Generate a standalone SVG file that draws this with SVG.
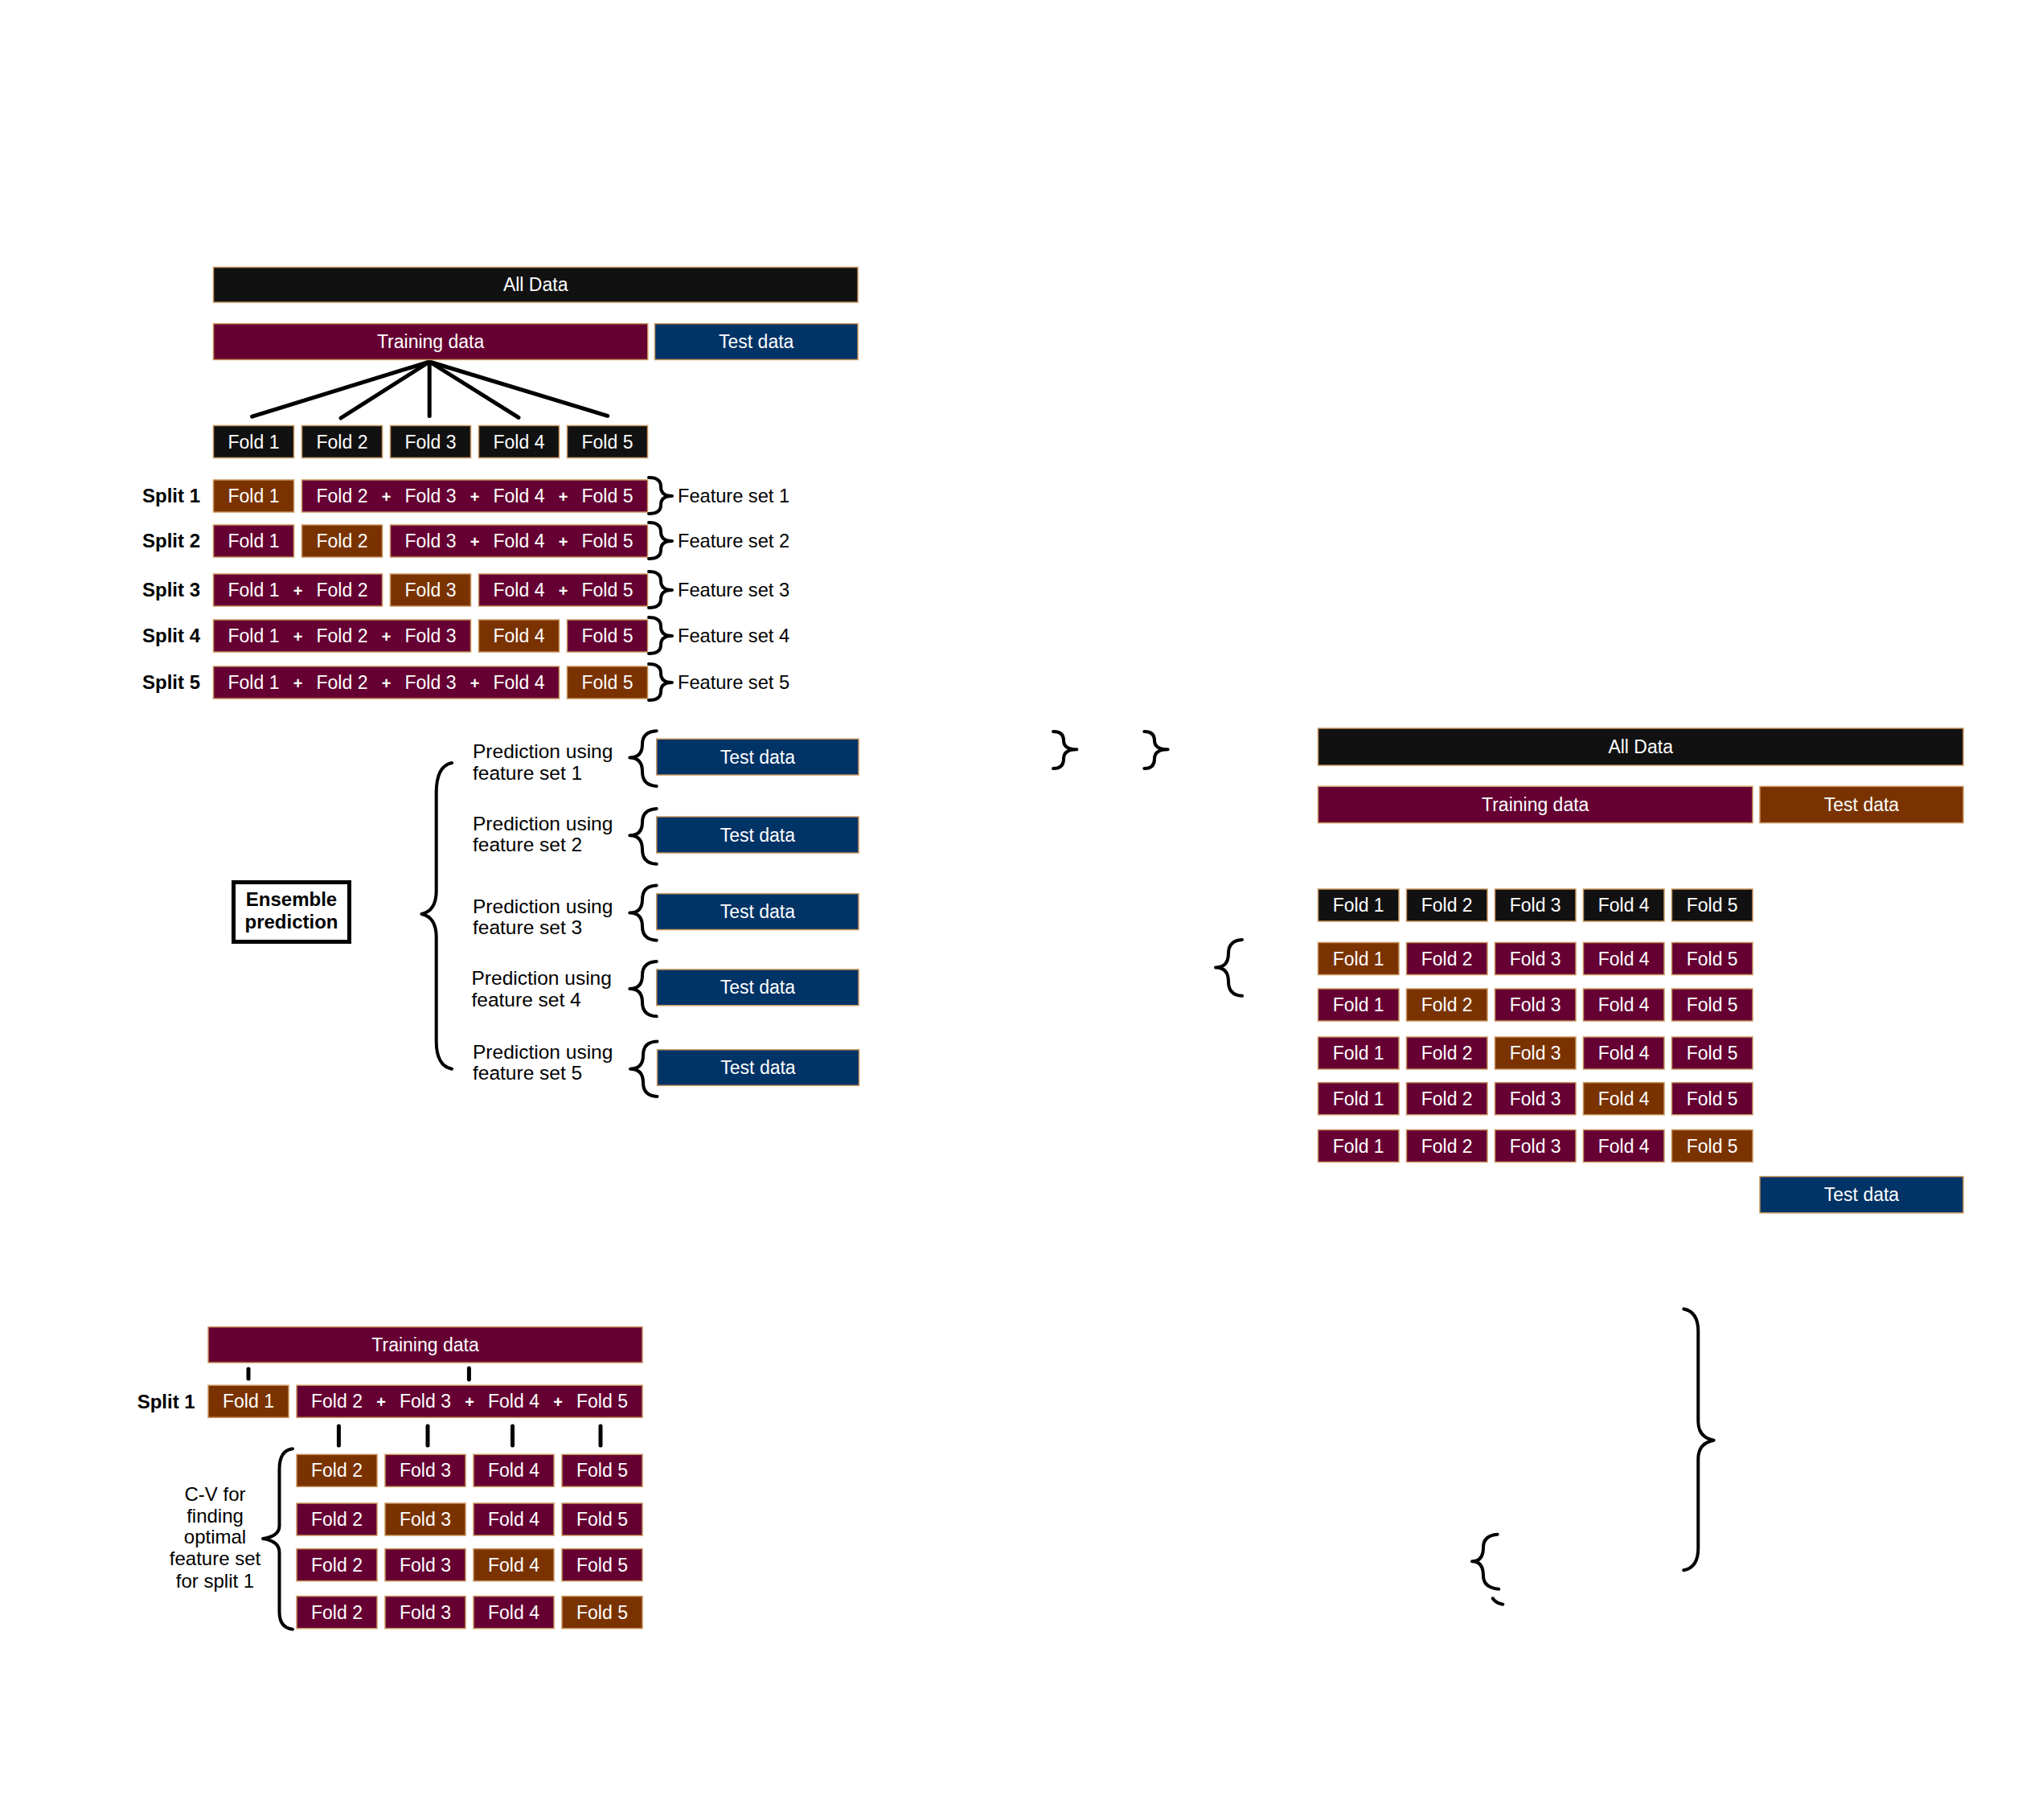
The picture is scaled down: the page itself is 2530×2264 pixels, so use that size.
<svg xmlns="http://www.w3.org/2000/svg" width="2530" height="2264" viewBox="0 0 2530 2264">
<style>
.b{stroke:#c8955e;stroke-width:1.5}
.k{fill:#111111}.m{fill:#660033}.o{fill:#7a3300}.n{fill:#003366}
text{font-family:"Liberation Sans",Arial,Helvetica,sans-serif;font-size:23px}
.w{fill:#ffffff;text-anchor:middle}
.p{fill:#ffffff;text-anchor:middle;font-weight:bold;font-size:20px}
.d{fill:#000000}
.f{fill:#000000;font-size:23.6px}
.q{fill:#000000;font-size:24.5px}
.c{fill:#000000;font-size:24px;text-anchor:middle}
.s{fill:#000000;font-weight:bold;font-size:24px}
.br{fill:none;stroke:#000000;stroke-width:4;stroke-linecap:round;stroke-linejoin:round}
.ln{stroke:#000000;stroke-width:5;stroke-linecap:round}
</style>
<rect width="2530" height="2264" fill="#ffffff"/>

<g id="connectors">
<line class="ln" x1="534.2" y1="450" x2="313.6" y2="518.2"/>
<line class="ln" x1="534.2" y1="450" x2="424" y2="520"/>
<line class="ln" x1="534.2" y1="450" x2="534.2" y2="517.5"/>
<line class="ln" x1="534.2" y1="450" x2="645" y2="519.3"/>
<line class="ln" x1="534.2" y1="450" x2="755.7" y2="517.3"/>
<line class="ln" x1="309" y1="1703" x2="309" y2="1715"/>
<line class="ln" x1="583.4" y1="1702" x2="583.4" y2="1716"/>
<line class="ln" x1="421.4" y1="1774" x2="421.4" y2="1798"/>
<line class="ln" x1="532" y1="1774" x2="532" y2="1798"/>
<line class="ln" x1="637.5" y1="1774" x2="637.5" y2="1798"/>
<line class="ln" x1="747" y1="1774" x2="747" y2="1798"/>
</g>

<g id="top-all-data">
<rect class="b k" x="265.5" y="332.5" width="801.5" height="43.5"/>
<text class="w" x="666.2" y="362">All Data</text>
</g>
<g id="top-training">
<rect class="b m" x="265.5" y="402.7" width="540.2" height="44.7"/>
<text class="w" x="535.6" y="433">Training data</text>
</g>
<g id="top-test">
<rect class="b n" x="814.5" y="402.7" width="252.5" height="44.7"/>
<text class="w" x="940.7" y="433">Test data</text>
</g>
<g id="top-folds">
<rect class="b k" x="265.5" y="529.5" width="100" height="40"/>
<rect class="b k" x="375.5" y="529.5" width="100" height="40"/>
<rect class="b k" x="485.5" y="529.5" width="100" height="40"/>
<rect class="b k" x="595.5" y="529.5" width="100" height="40"/>
<rect class="b k" x="705.5" y="529.5" width="100" height="40"/>
<text class="w" x="315.5" y="557.5">Fold 1</text>
<text class="w" x="425.5" y="557.5">Fold 2</text>
<text class="w" x="535.5" y="557.5">Fold 3</text>
<text class="w" x="645.5" y="557.5">Fold 4</text>
<text class="w" x="755.5" y="557.5">Fold 5</text>
</g>

<g id="split1">
<text class="s" x="177" y="625">Split 1</text>
<rect class="b o" x="265.5" y="597" width="100" height="40"/>
<rect class="b m" x="375.5" y="597" width="430" height="40"/>
<text class="w" x="315.5" y="625">Fold 1</text>
<text class="w" x="425.5" y="625">Fold 2</text>
<text class="p" x="480.5" y="625">+</text>
<text class="w" x="535.5" y="625">Fold 3</text>
<text class="p" x="590.5" y="625">+</text>
<text class="w" x="645.5" y="625">Fold 4</text>
<text class="p" x="700.5" y="625">+</text>
<text class="w" x="755.5" y="625">Fold 5</text>
<path class="br" d="M807 594 Q822 594 822 605.5 Q822 617 836 617 Q822 617 822 628 Q822 639 807 639"/>
<text class="f" x="843" y="625">Feature set 1</text>
</g>
<g id="split2">
<text class="s" x="177" y="681">Split 2</text>
<rect class="b m" x="265.5" y="653" width="100" height="40"/>
<rect class="b o" x="375.5" y="653" width="100" height="40"/>
<rect class="b m" x="485.5" y="653" width="320" height="40"/>
<text class="w" x="315.5" y="681">Fold 1</text>
<text class="w" x="425.5" y="681">Fold 2</text>
<text class="w" x="535.5" y="681">Fold 3</text>
<text class="p" x="590.5" y="681">+</text>
<text class="w" x="645.5" y="681">Fold 4</text>
<text class="p" x="700.5" y="681">+</text>
<text class="w" x="755.5" y="681">Fold 5</text>
<path class="br" d="M807 650 Q822 650 822 661.5 Q822 673 836 673 Q822 673 822 684 Q822 695 807 695"/>
<text class="f" x="843" y="681">Feature set 2</text>
</g>
<g id="split3">
<text class="s" x="177" y="742">Split 3</text>
<rect class="b m" x="265.5" y="714" width="210" height="40"/>
<rect class="b o" x="485.5" y="714" width="100" height="40"/>
<rect class="b m" x="595.5" y="714" width="210" height="40"/>
<text class="w" x="315.5" y="742">Fold 1</text>
<text class="p" x="370.5" y="742">+</text>
<text class="w" x="425.5" y="742">Fold 2</text>
<text class="w" x="535.5" y="742">Fold 3</text>
<text class="w" x="645.5" y="742">Fold 4</text>
<text class="p" x="700.5" y="742">+</text>
<text class="w" x="755.5" y="742">Fold 5</text>
<path class="br" d="M807 711 Q822 711 822 722.5 Q822 734 836 734 Q822 734 822 745 Q822 756 807 756"/>
<text class="f" x="843" y="742">Feature set 3</text>
</g>
<g id="split4">
<text class="s" x="177" y="799">Split 4</text>
<rect class="b m" x="265.5" y="771" width="320" height="40"/>
<rect class="b o" x="595.5" y="771" width="100" height="40"/>
<rect class="b m" x="705.5" y="771" width="100" height="40"/>
<text class="w" x="315.5" y="799">Fold 1</text>
<text class="p" x="370.5" y="799">+</text>
<text class="w" x="425.5" y="799">Fold 2</text>
<text class="p" x="480.5" y="799">+</text>
<text class="w" x="535.5" y="799">Fold 3</text>
<text class="w" x="645.5" y="799">Fold 4</text>
<text class="w" x="755.5" y="799">Fold 5</text>
<path class="br" d="M807 768 Q822 768 822 779.5 Q822 791 836 791 Q822 791 822 802 Q822 813 807 813"/>
<text class="f" x="843" y="799">Feature set 4</text>
</g>
<g id="split5">
<text class="s" x="177" y="857">Split 5</text>
<rect class="b m" x="265.5" y="829" width="430" height="40"/>
<rect class="b o" x="705.5" y="829" width="100" height="40"/>
<text class="w" x="315.5" y="857">Fold 1</text>
<text class="p" x="370.5" y="857">+</text>
<text class="w" x="425.5" y="857">Fold 2</text>
<text class="p" x="480.5" y="857">+</text>
<text class="w" x="535.5" y="857">Fold 3</text>
<text class="p" x="590.5" y="857">+</text>
<text class="w" x="645.5" y="857">Fold 4</text>
<text class="w" x="755.5" y="857">Fold 5</text>
<path class="br" d="M807 826 Q822 826 822 837.5 Q822 849 836 849 Q822 849 822 860 Q822 871 807 871"/>
<text class="f" x="843" y="857">Feature set 5</text>
</g>

<g id="ensemble">
<rect x="290.5" y="1097.5" width="144" height="74" fill="#ffffff" stroke="#000000" stroke-width="5"/>
<text class="s" x="362.5" y="1126.5" text-anchor="middle" font-size="24.5">Ensemble</text>
<text class="s" x="362.5" y="1155" text-anchor="middle" font-size="24.5">prediction</text>
<path class="br" d="M562 949 Q542.7 953 542.7 986 L542.7 1108 Q542.7 1133 524.5 1137 Q542.7 1141 542.7 1166 L542.7 1295 Q542.7 1326 562 1329.7" stroke-width="4.5"/>
</g>

<g id="pred1">
<text class="q" x="588" y="943">Prediction using</text>
<text class="q" x="588" y="969.6">feature set 1</text>
<path class="br" d="M816.7 909.2 Q799 910 799 925.8 Q799 942.4 783.3 942.4 Q799 942.4 799 960 Q799 977 816.7 977.9"/>
<rect class="b n" x="816.7" y="919.2" width="251.3" height="44.8"/>
<text class="w" x="942.3" y="949.6">Test data</text>
</g>
<g id="pred2">
<text class="q" x="588" y="1032.7">Prediction using</text>
<text class="q" x="588" y="1059">feature set 2</text>
<path class="br" d="M816.7 1006 Q799 1007 799 1022.6 Q799 1039.3 783.3 1039.3 Q799 1039.3 799 1057 Q799 1074 816.7 1074.8"/>
<rect class="b n" x="816.7" y="1016" width="251.3" height="45"/>
<text class="w" x="942.3" y="1046.5">Test data</text>
</g>
<g id="pred3">
<text class="q" x="588" y="1135.6">Prediction using</text>
<text class="q" x="588" y="1162">feature set 3</text>
<path class="br" d="M816.7 1101.4 Q799 1102 799 1118.5 Q799 1135.6 783.3 1135.6 Q799 1135.6 799 1152.6 Q799 1169 816.7 1169.7"/>
<rect class="b n" x="816.7" y="1111.7" width="251.3" height="44.8"/>
<text class="w" x="942.3" y="1142">Test data</text>
</g>
<g id="pred4">
<text class="q" x="586.5" y="1225">Prediction using</text>
<text class="q" x="586.5" y="1251.7">feature set 4</text>
<path class="br" d="M816.7 1196 Q799 1197 799 1213 Q799 1230 783.3 1230 Q799 1230 799 1247 Q799 1263.5 816.7 1264.3"/>
<rect class="b n" x="816.7" y="1206" width="251.3" height="44.7"/>
<text class="w" x="942.3" y="1236.4">Test data</text>
</g>
<g id="pred5">
<text class="q" x="588" y="1317.4">Prediction using</text>
<text class="q" x="588" y="1343">feature set 5</text>
<path class="br" d="M817.5 1295.5 Q800 1296 800 1312.6 Q800 1329.7 784 1329.7 Q800 1329.7 800 1347 Q800 1363 817.5 1364"/>
<rect class="b n" x="817.5" y="1305.8" width="251" height="44.5"/>
<text class="w" x="943" y="1336">Test data</text>
</g>

<g id="right-braces">
<path class="br" d="M1310 910 Q1323 910 1323 921 Q1323 932.3 1339.3 932.3 Q1323 932.3 1323 944 Q1323 956 1310 956"/>
<path class="br" d="M1423.3 910 Q1436 910 1436 921 Q1436 932.3 1452.7 932.3 Q1436 932.3 1436 944 Q1436 956 1423.3 956"/>
<path class="br" d="M1545 1169 Q1528 1170 1528 1186 Q1528 1203.5 1512 1203.5 Q1528 1203.5 1528 1221 Q1528 1238 1545 1238.8"/>
</g>
<g id="right-all-data">
<rect class="b k" x="1639.5" y="906" width="802.5" height="46"/>
<text class="w" x="2040.7" y="937">All Data</text>
</g>
<g id="right-training">
<rect class="b m" x="1639.5" y="978.3" width="540.5" height="45.3"/>
<text class="w" x="1909.7" y="1009">Training data</text>
</g>
<g id="right-test-orange">
<rect class="b o" x="2189" y="978.3" width="253" height="45.3"/>
<text class="w" x="2315.5" y="1009">Test data</text>
</g>
<g id="right-folds">
<rect class="b k" x="1639.5" y="1106" width="100.5" height="40"/>
<rect class="b k" x="1749.5" y="1106" width="100.5" height="40"/>
<rect class="b k" x="1859.5" y="1106" width="100.5" height="40"/>
<rect class="b k" x="1969.5" y="1106" width="100.5" height="40"/>
<rect class="b k" x="2079.5" y="1106" width="100.5" height="40"/>
<text class="w" x="1689.7" y="1134">Fold 1</text>
<text class="w" x="1799.7" y="1134">Fold 2</text>
<text class="w" x="1909.7" y="1134">Fold 3</text>
<text class="w" x="2019.7" y="1134">Fold 4</text>
<text class="w" x="2129.7" y="1134">Fold 5</text>
</g>
<g id="right-row1">
<rect class="b o" x="1639.5" y="1172.5" width="100.5" height="40"/>
<rect class="b m" x="1749.5" y="1172.5" width="100.5" height="40"/>
<rect class="b m" x="1859.5" y="1172.5" width="100.5" height="40"/>
<rect class="b m" x="1969.5" y="1172.5" width="100.5" height="40"/>
<rect class="b m" x="2079.5" y="1172.5" width="100.5" height="40"/>
<text class="w" x="1689.7" y="1200.5">Fold 1</text>
<text class="w" x="1799.7" y="1200.5">Fold 2</text>
<text class="w" x="1909.7" y="1200.5">Fold 3</text>
<text class="w" x="2019.7" y="1200.5">Fold 4</text>
<text class="w" x="2129.7" y="1200.5">Fold 5</text>
</g>
<g id="right-row2">
<rect class="b m" x="1639.5" y="1230" width="100.5" height="40"/>
<rect class="b o" x="1749.5" y="1230" width="100.5" height="40"/>
<rect class="b m" x="1859.5" y="1230" width="100.5" height="40"/>
<rect class="b m" x="1969.5" y="1230" width="100.5" height="40"/>
<rect class="b m" x="2079.5" y="1230" width="100.5" height="40"/>
<text class="w" x="1689.7" y="1258">Fold 1</text>
<text class="w" x="1799.7" y="1258">Fold 2</text>
<text class="w" x="1909.7" y="1258">Fold 3</text>
<text class="w" x="2019.7" y="1258">Fold 4</text>
<text class="w" x="2129.7" y="1258">Fold 5</text>
</g>
<g id="right-row3">
<rect class="b m" x="1639.5" y="1290" width="100.5" height="40"/>
<rect class="b m" x="1749.5" y="1290" width="100.5" height="40"/>
<rect class="b o" x="1859.5" y="1290" width="100.5" height="40"/>
<rect class="b m" x="1969.5" y="1290" width="100.5" height="40"/>
<rect class="b m" x="2079.5" y="1290" width="100.5" height="40"/>
<text class="w" x="1689.7" y="1318">Fold 1</text>
<text class="w" x="1799.7" y="1318">Fold 2</text>
<text class="w" x="1909.7" y="1318">Fold 3</text>
<text class="w" x="2019.7" y="1318">Fold 4</text>
<text class="w" x="2129.7" y="1318">Fold 5</text>
</g>
<g id="right-row4">
<rect class="b m" x="1639.5" y="1346.7" width="100.5" height="40"/>
<rect class="b m" x="1749.5" y="1346.7" width="100.5" height="40"/>
<rect class="b m" x="1859.5" y="1346.7" width="100.5" height="40"/>
<rect class="b o" x="1969.5" y="1346.7" width="100.5" height="40"/>
<rect class="b m" x="2079.5" y="1346.7" width="100.5" height="40"/>
<text class="w" x="1689.7" y="1374.7">Fold 1</text>
<text class="w" x="1799.7" y="1374.7">Fold 2</text>
<text class="w" x="1909.7" y="1374.7">Fold 3</text>
<text class="w" x="2019.7" y="1374.7">Fold 4</text>
<text class="w" x="2129.7" y="1374.7">Fold 5</text>
</g>
<g id="right-row5">
<rect class="b m" x="1639.5" y="1405.5" width="100.5" height="40"/>
<rect class="b m" x="1749.5" y="1405.5" width="100.5" height="40"/>
<rect class="b m" x="1859.5" y="1405.5" width="100.5" height="40"/>
<rect class="b m" x="1969.5" y="1405.5" width="100.5" height="40"/>
<rect class="b o" x="2079.5" y="1405.5" width="100.5" height="40"/>
<text class="w" x="1689.7" y="1433.5">Fold 1</text>
<text class="w" x="1799.7" y="1433.5">Fold 2</text>
<text class="w" x="1909.7" y="1433.5">Fold 3</text>
<text class="w" x="2019.7" y="1433.5">Fold 4</text>
<text class="w" x="2129.7" y="1433.5">Fold 5</text>
</g>
<g id="right-test-navy">
<rect class="b n" x="2189" y="1463.6" width="253" height="45.2"/>
<text class="w" x="2315.5" y="1494.2">Test data</text>
</g>

<g id="bottom-training">
<rect class="b m" x="259" y="1650.7" width="540" height="44.3"/>
<text class="w" x="529" y="1680.8">Training data</text>
</g>
<g id="bottom-split1">
<text class="s" x="170.7" y="1751.5">Split 1</text>
<rect class="b o" x="259" y="1723.3" width="100" height="40"/>
<rect class="b m" x="369" y="1723.3" width="430" height="40"/>
<text class="w" x="309" y="1751.3">Fold 1</text>
<text class="w" x="419" y="1751.3">Fold 2</text>
<text class="p" x="474" y="1751.3">+</text>
<text class="w" x="529" y="1751.3">Fold 3</text>
<text class="p" x="584" y="1751.3">+</text>
<text class="w" x="639" y="1751.3">Fold 4</text>
<text class="p" x="694" y="1751.3">+</text>
<text class="w" x="749" y="1751.3">Fold 5</text>
</g>
<g id="bottom-cv">
<path class="br" d="M364 1802.3 Q347.5 1804 347.5 1828 L347.5 1898 Q347.5 1911 327 1914 Q347.5 1917 347.5 1931 L347.5 2005 Q347.5 2025 364 2026.7"/>
<text class="c" x="267.5" y="1866.7">C-V for</text>
<text class="c" x="267.5" y="1893.5">finding</text>
<text class="c" x="267.5" y="1920.3">optimal</text>
<text class="c" x="267.5" y="1947.2">feature set</text>
<text class="c" x="267.5" y="1974.5">for split 1</text>
</g>
<g id="bottom-row1">
<rect class="b o" x="369" y="1809.3" width="100" height="40"/>
<rect class="b m" x="479" y="1809.3" width="100" height="40"/>
<rect class="b m" x="589" y="1809.3" width="100" height="40"/>
<rect class="b m" x="699" y="1809.3" width="100" height="40"/>
<text class="w" x="419" y="1837.3">Fold 2</text>
<text class="w" x="529" y="1837.3">Fold 3</text>
<text class="w" x="639" y="1837.3">Fold 4</text>
<text class="w" x="749" y="1837.3">Fold 5</text>
</g>
<g id="bottom-row2">
<rect class="b m" x="369" y="1870" width="100" height="40"/>
<rect class="b o" x="479" y="1870" width="100" height="40"/>
<rect class="b m" x="589" y="1870" width="100" height="40"/>
<rect class="b m" x="699" y="1870" width="100" height="40"/>
<text class="w" x="419" y="1898">Fold 2</text>
<text class="w" x="529" y="1898">Fold 3</text>
<text class="w" x="639" y="1898">Fold 4</text>
<text class="w" x="749" y="1898">Fold 5</text>
</g>
<g id="bottom-row3">
<rect class="b m" x="369" y="1926.7" width="100" height="40"/>
<rect class="b m" x="479" y="1926.7" width="100" height="40"/>
<rect class="b o" x="589" y="1926.7" width="100" height="40"/>
<rect class="b m" x="699" y="1926.7" width="100" height="40"/>
<text class="w" x="419" y="1954.7">Fold 2</text>
<text class="w" x="529" y="1954.7">Fold 3</text>
<text class="w" x="639" y="1954.7">Fold 4</text>
<text class="w" x="749" y="1954.7">Fold 5</text>
</g>
<g id="bottom-row4">
<rect class="b m" x="369" y="1985.7" width="100" height="40"/>
<rect class="b m" x="479" y="1985.7" width="100" height="40"/>
<rect class="b m" x="589" y="1985.7" width="100" height="40"/>
<rect class="b o" x="699" y="1985.7" width="100" height="40"/>
<text class="w" x="419" y="2013.7">Fold 2</text>
<text class="w" x="529" y="2013.7">Fold 3</text>
<text class="w" x="639" y="2013.7">Fold 4</text>
<text class="w" x="749" y="2013.7">Fold 5</text>
</g>

<g id="bottom-right-braces">
<path class="br" d="M2094.3 1628.3 Q2112.3 1632 2112.3 1656 L2112.3 1768 Q2112.3 1788 2131.7 1791.7 Q2112.3 1795 2112.3 1815 L2112.3 1926 Q2112.3 1950 2094.3 1953.3"/>
<path class="br" d="M1862.7 1908.7 Q1845 1910 1845 1925 Q1845 1942.3 1831 1942.3 Q1845 1942.3 1845 1960 Q1845 1975 1864.3 1976.7"/>
<path class="br" d="M1856.7 1988.3 Q1860 1994 1869.3 1995.7"/>
</g>
</svg>
